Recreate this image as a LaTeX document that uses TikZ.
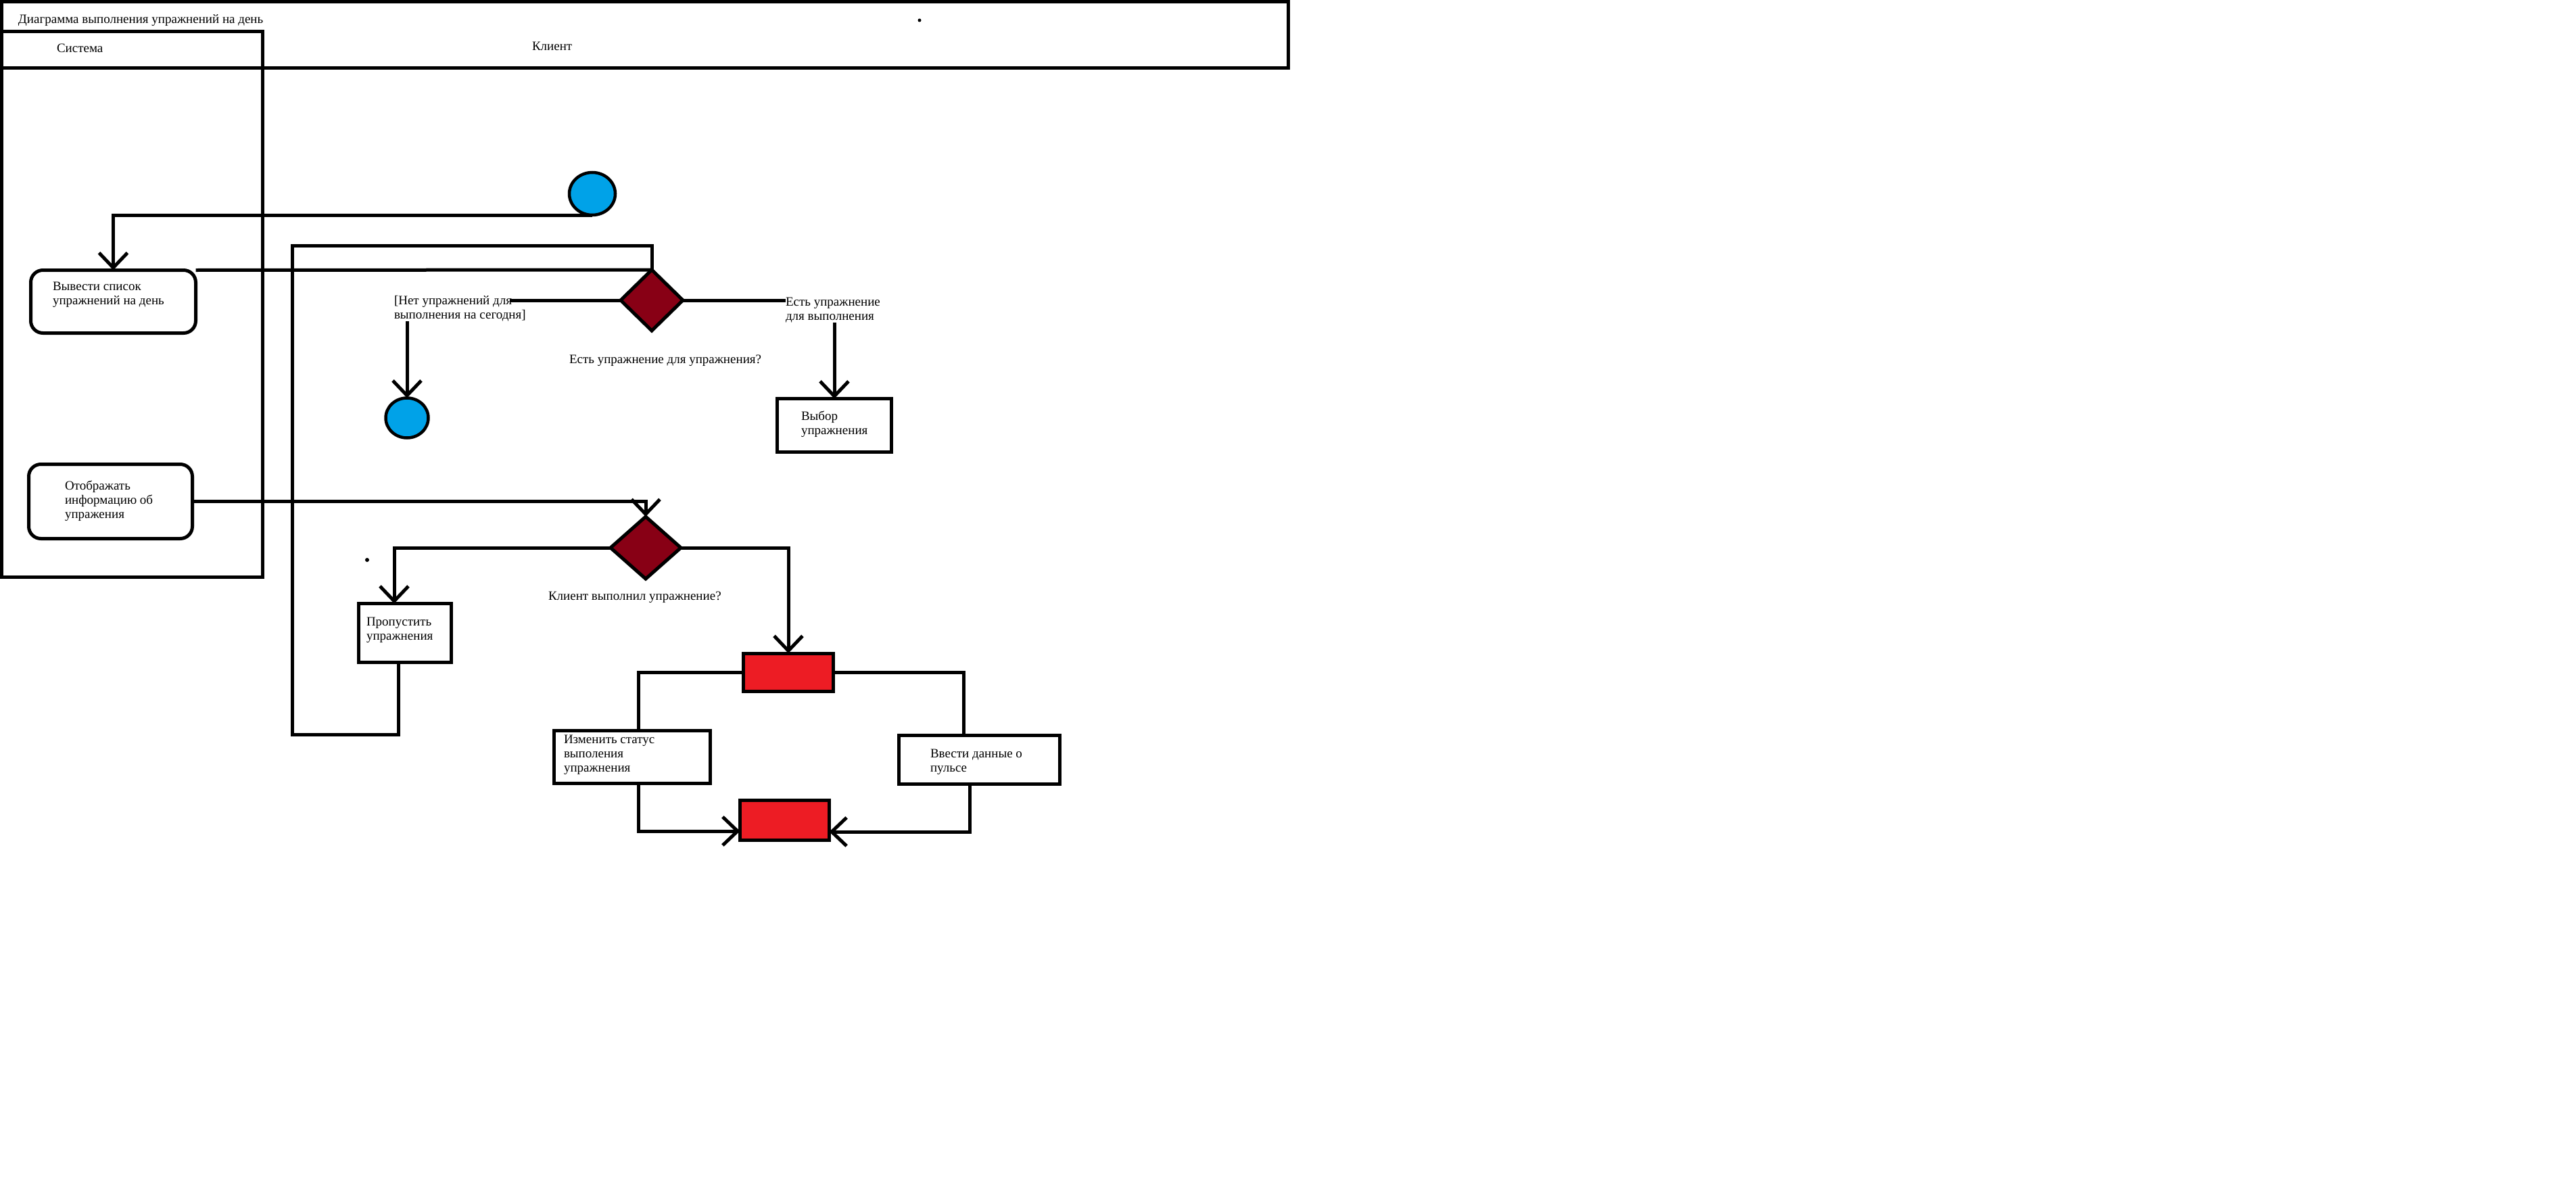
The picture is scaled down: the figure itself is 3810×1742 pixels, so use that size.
\documentclass[tikz,border=0pt]{standalone}
\usepackage{fontspec}
\setmainfont{Liberation Serif}
\usetikzlibrary{arrows.meta,shapes.geometric,calc}
\definecolor{paintblue}{HTML}{00A2E8}
\definecolor{paintdark}{HTML}{880015}
\definecolor{paintred}{HTML}{ED1C24}
\begin{document}
\begin{tikzpicture}[x=1pt,y=-1pt,line width=5pt,
  every node/.style={inner sep=0pt,outer sep=0pt},
  lbl/.style={anchor=north west,align=left,font=\fontsize{19}{21}\selectfont},
  actbox/.style={draw,rectangle,line width=5pt},
  rbox/.style={actbox,rounded corners=18pt},
  forkbar/.style={draw,rectangle,fill=paintred,line width=5pt},
  dec/.style={draw,diamond,fill=paintdark,aspect=1,line width=5pt},
  startnode/.style={draw,ellipse,fill=paintblue,line width=4.5pt},
  arr/.style={-{Straight Barb[length=22pt,width=42pt]}},
  lane/.style={draw,line width=5pt}]
\fill[white] (0,0) rectangle (3810,1742);
\useasboundingbox (0,0) rectangle (3810,1742);
% frames
\draw[lane] (2.5,2.5) rectangle (1905,101);
\draw[lane] (2.5,47) rectangle (388,853);
\fill (1360,30) circle (2.5);
\fill (543,828) circle (3);
% nodes
\node[startnode,minimum width=68pt,minimum height=63pt] (init) at (876,286.5) {};
\node[startnode,minimum width=63pt,minimum height=59pt] (final) at (602,618) {};
\node[rbox,minimum width=244pt,minimum height=93pt] (vyvesti) at (167.5,446) {};
\node[rbox,minimum width=242pt,minimum height=110pt] (otobr) at (163.5,741.5) {};
\node[dec,minimum width=92pt,minimum height=90pt] (d1) at (964,444) {};
\node[dec,minimum width=104pt,minimum height=92pt] (d2) at (955,810) {};
\node[actbox,minimum width=169pt,minimum height=79pt] (vybor) at (1234,629) {};
\node[actbox,minimum width=137pt,minimum height=87pt] (skip) at (599,936) {};
\node[forkbar,minimum width=133pt,minimum height=56pt] (fork1) at (1166,994) {};
\node[actbox,minimum width=231pt,minimum height=78pt] (izm) at (935,1119.5) {};
\node[actbox,minimum width=238pt,minimum height=72pt] (vvesti) at (1448.5,1123.5) {};
\node[forkbar,minimum width=132pt,minimum height=59pt] (fork2) at (1160.5,1213) {};
% texts
\node[lbl] (title) at (27,21) {Диаграмма выполнения упражнений на день};
\node[lbl] (sysT) at (84,65) {Система};
\node[lbl] (cliT) at (787,62) {Клиент};
\node[lbl] (vyvT) at (78,417) {Вывести список\\упражнений на день};
\node[lbl] (noT) at (583,437) {[Нет упражнений для\\выполнения на сегодня]};
\node[lbl] (yesT) at (1162,440) {Есть упражнение\\для выполнения};
\node[lbl] (q1) at (842,525) {Есть упражнение для упражнения?};
\node[lbl] (vybT) at (1185,608) {Выбор\\упражнения};
\node[lbl] (otoT) at (96,711) {Отображать\\информацию об\\упражения};
\node[lbl] (q2) at (811,875) {Клиент выполнил упражнение?};
\node[lbl] (skipT) at (542,913) {Пропустить\\упражнения};
\node[lbl] (izmT) at (834,1087) {Изменить статус\\выполения\\упражнения};
\node[lbl] (vvT) at (1376,1108) {Ввести данные о\\пульсе};
% connectors
\coordinate (loopbl) at (432,1086);
\coordinate (looptop) at (964,363);
\coordinate (noEnd) at (754,442);
\draw[arr] (init.south) -| (vyvesti.north);
\draw (vyvesti.north east) -- (d1.north);
\draw ($(skip.south)+(-10,0)$) |- (loopbl) |- (looptop) -- (d1.north);
\draw (d1.west) -- (d1.west -| noEnd);
\draw[arr] (noT.south -| final.north) -- (final.north);
\draw (d1.east) -- (d1.east -| yesT.west);
\draw[arr] (yesT.south -| vybor.north) -- (vybor.north);
\draw[arr] (otobr.east) -| (d2.north);
\draw[arr] (d2.west) -| ($(skip.north)+(-16,0)$);
\draw[arr] (d2.east) -| (fork1.north);
\draw (fork1.west) -| ($(izm.north)+(9,0)$);
\draw (fork1.east) -| ($(vvesti.north)+(-23,0)$);
\draw[arr] ($(izm.south)+(9,0)$) |- ($(fork2.west)+(0,16)$);
\draw[arr] ($(vvesti.south)+(-14,0)$) |- ($(fork2.east)+(0,17)$);
\end{tikzpicture}
\end{document}
